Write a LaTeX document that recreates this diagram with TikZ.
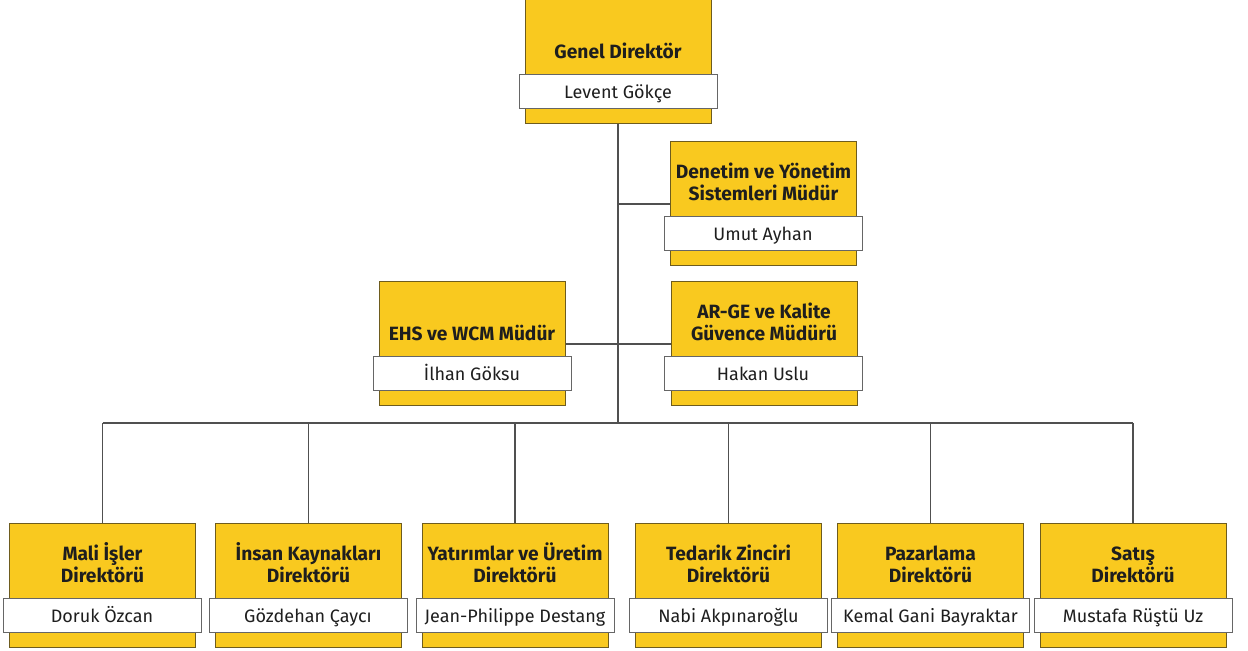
\documentclass[tikz,border=0pt]{standalone}
\usepackage{fontspec}
\setmainfont{Fira Sans}
\definecolor{postyellow}{HTML}{F9C91F}
\definecolor{postedge}{HTML}{6E5C1E}
\definecolor{linkgray}{HTML}{505050}
\definecolor{textdark}{HTML}{1E1E1E}
\begin{document}
\begin{tikzpicture}[x=0.5pt,y=-0.5pt,
  post/.style={draw=postedge,fill=postyellow,line width=0.5pt,minimum width=93pt,minimum height=62pt,inner sep=0pt},
  person/.style={draw=gray!80!black,fill=white,line width=0.5pt,minimum width=99pt,minimum height=17pt,inner sep=0pt,text height=7pt,text depth=0pt,text=textdark,font=\fontsize{9}{10}\selectfont},
  title/.style={anchor=south,inner sep=0pt,text depth=0pt,align=center,text=textdark,font=\bfseries\fontsize{9.6}{11}\selectfont},
  link/.style={draw=linkgray,line width=0.55pt}]
  \useasboundingbox (0,0) rectangle (1248,651);
  \coordinate (bus) at (618,423);

  % connectors first, boxes on top
  \node[post] (gen) at (618,62) {};
  \node[post] (den) at (763.5,204) {};
  \node[post] (ehs) at (472,344) {};
  \node[post] (arge) at (764,344) {};
  \node[post] (mali) at (102.5,585.5) {};
  \node[post] (ik) at (308.5,585.5) {};
  \node[post] (yat) at (515,585.5) {};
  \node[post] (ted) at (728.5,585.5) {};
  \node[post] (paz) at (930.5,585.5) {};
  \node[post] (sat) at (1133,585.5) {};

  \draw[link] (gen.south) -- (bus);
  \draw[link] (den.west) -- (den.west -| gen.south);
  \draw[link] (ehs.east) -- (arge.west);
  \draw[link] (mali.north |- bus) -- (sat.north |- bus);
  \foreach \p in {mali,ik,yat,ted,paz,sat}
    \draw[link] (\p.north) -- (\p.north |- bus);

  \node[title] at (618,59) {Genel Direktör};
  \node[person] (genname) at (618,92) {Levent Gökçe};

  \node[title] at (763.5,201) {Denetim ve Yönetim\\Sistemleri Müdür};
  \node[person] (denname) at (763,234) {Umut Ayhan};

  \node[title] at (472,341) {EHS ve WCM Müdür};
  \node[person] (ehsname) at (472,374) {İlhan Göksu};

  \node[title] at (764,341) {AR-GE ve Kalite\\Güvence Müdürü};
  \node[person] (argename) at (763,374) {Hakan Uslu};

  \node[title] at (102.5,582.5) {Mali İşler\\Direktörü};
  \node[person] (maliname) at (102,615.5) {Doruk Özcan};

  \node[title] at (308.5,582.5) {İnsan Kaynakları\\Direktörü};
  \node[person] (ikname) at (308,615.5) {Gözdehan Çaycı};

  \node[title] at (515,582.5) {Yatırımlar ve Üretim\\Direktörü};
  \node[person] (yatname) at (515,615.5) {Jean-Philippe Destang};

  \node[title] at (728.5,582.5) {Tedarik Zinciri\\Direktörü};
  \node[person] (tedname) at (728.5,615.5) {Nabi Akpınaroğlu};

  \node[title] at (930.5,582.5) {Pazarlama\\Direktörü};
  \node[person] (pazname) at (930.5,615.5) {Kemal Gani Bayraktar};

  \node[title] at (1133,582.5) {Satış\\Direktörü};
  \node[person] (satname) at (1133,615.5) {Mustafa Rüştü Uz};
\end{tikzpicture}
\end{document}
